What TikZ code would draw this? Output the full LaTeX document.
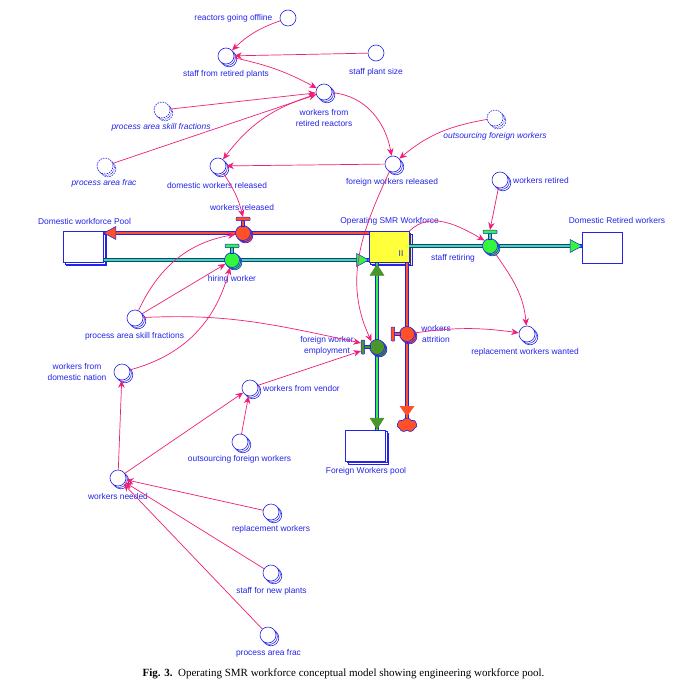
\documentclass[tikz,border=0pt]{standalone}
\usepackage{fontspec}
\setmainfont{Liberation Serif}
\newfontfamily\lblfont{Liberation Sans}
\usetikzlibrary{arrows.meta,shadows,shapes.symbols,calc}
\definecolor{tblue}{RGB}{35,35,235}
\definecolor{lpink}{RGB}{240,30,120}
\definecolor{vgreen}{RGB}{50,245,60}
\definecolor{dgreen}{RGB}{75,150,40}
\definecolor{vred}{RGB}{255,80,40}
\definecolor{syellow}{RGB}{255,255,60}
\newcommand\handleup[2]{%
  \filldraw[draw=tblue, fill=#2, line width=0.4pt] ($(#1.north)+(-1.6,-0.5)$) rectangle ($(#1.north)+(1.6,4.8)$);
  \filldraw[draw=tblue, fill=#2, line width=0.5pt, rounded corners=0.8pt] ($(#1.north)+(-7,4.5)$) rectangle ($(#1.north)+(7,8)$);}
\newcommand\handleleft[2]{%
  \filldraw[draw=tblue, fill=#2, line width=0.4pt] ($(#1.west)+(0.5,-1.6)$) rectangle ($(#1.west)+(-4.8,1.6)$);
  \filldraw[draw=tblue, fill=#2, line width=0.5pt, rounded corners=0.8pt] ($(#1.west)+(-4.5,-7)$) rectangle ($(#1.west)+(-8,7)$);}
\begin{document}
\begin{tikzpicture}[x=1pt,y=1pt,
  lbl/.style={text=tblue, font=\lblfont\fontsize{8.4}{11}\selectfont, inner sep=0pt, align=center},
  ilbl/.style={lbl, font=\lblfont\itshape\fontsize{8.4}{11}\selectfont},
  conv/.style={circle, draw=tblue, fill=white, line width=0.6pt, minimum size=16pt, inner sep=0pt},
  convs/.style={conv, double copy shadow={shadow xshift=1.4pt, shadow yshift=-1.4pt}},
  ghost/.style={convs, dash pattern=on 1.6pt off 1pt},
  valve/.style={circle, draw=tblue, line width=0.6pt, minimum size=15pt, inner sep=0pt, double copy shadow={shadow xshift=1.2pt, shadow yshift=-1.2pt}},
  stock/.style={rectangle, draw=tblue, fill=white, line width=0.7pt, minimum width=40pt, minimum height=31pt, inner sep=0pt},
  stocks/.style={stock, double copy shadow={shadow xshift=1.5pt, shadow yshift=-1.5pt}},
  pipe/.style={draw=tblue, line width=1.1pt, double distance=2.6pt},
  phead/.style={draw=tblue, line width=0.5pt},
  link/.style={draw=lpink, line width=0.7pt, -{Stealth[length=7.5pt,width=6.5pt]}}
]
\fill[white] (0,0) rectangle (686,-690);
\useasboundingbox (0,0) rectangle (686,-690);

% stocks
\node[stocks] (dwp) at (83.5,-247) {};
\node[stocks, fill=syellow] (smr) at (389,-247) {};
\node[stock] (drw) at (602.5,-247.5) {};
\node[stocks] (fwp) at (365.5,-445.5) {};
\node[cloud, cloud puffs=7, cloud puff arc=120, aspect=1.5, draw=tblue, fill=vred, line width=0.6pt, minimum width=20pt, minimum height=14pt, inner sep=0pt] (cld) at (407,-425) {};

% valves (positions)
\coordinate (pvwr) at (243,-233);
\coordinate (pvhw) at (232,-260);
\coordinate (pvsr) at (490,-246);
\coordinate (pvfwe) at (377,-347);
\coordinate (pvwa) at (407,-334);

% pipes
\draw[pipe, double=vred] (smr.west |- pvwr) -- (dwp.east |- pvwr);
\draw[pipe, double=vgreen] (dwp.east |- pvhw) -- (smr.west |- pvhw);
\draw[pipe, double=vgreen] (smr.east |- pvsr) -- (drw.west |- pvsr);
\draw[pipe, double=vgreen] (smr.south -| pvfwe) -- (fwp.north -| pvfwe);
\draw[pipe, double=vred] (smr.south -| pvwa) -- (cld.north);

% pipe arrowheads
\filldraw[phead, fill=vred] (dwp.east |- pvwr) -- ++(12,6.5) -- ++(0,-13) -- cycle;
\filldraw[phead, fill=vgreen] (smr.west |- pvhw) -- ++(-12,6.5) -- ++(0,-13) -- cycle;
\filldraw[phead, fill=vgreen] (drw.west |- pvsr) -- ++(-12,6.5) -- ++(0,-13) -- cycle;
\filldraw[draw=dgreen, fill=dgreen] ($(fwp.north -| pvfwe)+(0,0.5)$) -- ++(-7,11) -- ++(14,0) -- cycle;
\filldraw[draw=dgreen, fill=dgreen] ($(smr.south -| pvfwe)+(0,-1.5)$) -- ++(-7,-11) -- ++(14,0) -- cycle;
\filldraw[draw=vred, fill=vred] ($(cld.north -| pvwa)+(0,1.5)$) -- ++(-7,10) -- ++(14,0) -- cycle;

\node[text=tblue, font=\lblfont\fontsize{8.4}{8.4}\selectfont, inner sep=0pt] at (401,-254) {II};

% valves
\node[valve, fill=vred] (vwr) at (pvwr) {};
\node[valve, fill=vgreen] (vhw) at (pvhw) {};
\node[valve, fill=vgreen] (vsr) at (pvsr) {};
\node[valve, fill=dgreen] (vfwe) at (pvfwe) {};
\node[valve, fill=vred] (vwa) at (pvwa) {};
\handleup{vwr}{vred}
\handleup{vhw}{vgreen}
\handleup{vsr}{vgreen}
\handleleft{vfwe}{dgreen}
\handleleft{vwa}{vred}
\coordinate (vwrh) at ($(vwr.north)+(0,8.3)$);
\coordinate (vsrh) at ($(vsr.north)+(0,8.3)$);
\coordinate (vfwea) at ($(vfwe.west)+(-8.3,4)$);
\coordinate (vfweb) at ($(vfwe.west)+(-8.3,-4)$);

% converters
\node[conv] (rgo) at (288,-18) {};
\node[convs] (sfrp) at (226,-56) {};
\node[conv] (sps) at (376,-53) {};
\node[convs] (wfrr) at (324,-92) {};
\node[ghost] (pasfa) at (162,-110) {};
\node[ghost] (pafa) at (105,-166) {};
\node[convs] (dwr) at (218,-166) {};
\node[convs] (fwr) at (393,-164) {};
\node[ghost] (ofwa) at (495,-118) {};
\node[convs] (wret) at (500,-180) {};
\node[convs] (rww) at (527,-334) {};
\node[convs] (pasfb) at (135,-318) {};
\node[convs] (wfdn) at (122,-372) {};
\node[convs] (wfv) at (250,-388) {};
\node[convs] (ofwb) at (240,-442) {};
\node[convs] (wn) at (118,-478) {};
\node[convs] (rw) at (271,-512) {};
\node[convs] (sfnp) at (271,-573) {};
\node[convs] (pafb) at (268,-635) {};

% labels
\node[lbl, anchor=east] at (272.5,-18) {reactors going offline};
\node[lbl] at (226,-74) {staff from retired plants};
\node[lbl] at (376,-72) {staff plant size};
\node[lbl] at (324,-117.5) {workers from\\retired reactors};
\node[ilbl] at (161,-127) {process area skill fractions};
\node[ilbl] at (104,-183) {process area frac};
\node[lbl] at (217,-185) {domestic workers released};
\node[lbl] at (392,-182) {foreign workers released};
\node[ilbl] at (495,-136) {outsourcing foreign workers};
\node[lbl, anchor=west] at (513,-180) {workers retired};
\node[lbl] at (525,-352) {replacement workers wanted};
\node[lbl] at (134.5,-336) {process area skill fractions};
\node[lbl] at (77,-372) {workers from\\domestic nation};
\node[lbl, anchor=west] at (263,-388) {workers from vendor};
\node[lbl] at (239.5,-459) {outsourcing foreign workers};
\node[lbl] at (118,-496) {workers needed};
\node[lbl] at (271,-529) {replacement workers};
\node[lbl] at (271.5,-591) {staff for new plants};
\node[lbl] at (268.5,-653) {process area frac};
\node[lbl] at (84.5,-221) {Domestic workforce Pool};
\node[lbl] at (389.5,-221) {Operating SMR Workforce};
\node[lbl] at (617,-220) {Domestic Retired workers};
\node[lbl] at (366,-471) {Foreign Workers pool};
\node[lbl] at (242,-207) {workers released};
\node[lbl] at (232,-279) {hiring worker};
\node[lbl] at (453,-258) {staff retiring};
\node[lbl] at (327,-346) {foreign worker\\employment};
\node[lbl] at (436,-334) {workers\\attrition};

% connectors
\draw[link] (rgo) to[bend right=12] (sfrp);
\draw[link] (sps) -- (sfrp);
\draw[link] (sfrp) to[bend left=8] (wfrr);
\draw[link] (pasfa) -- (wfrr);
\draw[link] (pafa) -- (wfrr);
\draw[link] (wfrr) to[bend right=18] (dwr);
\draw[link] (wfrr) to[out=-5,in=100] (fwr);
\draw[link] (ofwa) to[out=190,in=40] (fwr);
\draw[link] (fwr) -- (dwr);
\draw[link] (dwr) to[bend left=10] (vwrh);
\draw[link] (fwr) to[out=245,in=115] (vfwe.north west);
\draw[link] (wret) -- (vsrh);
\draw[link] (smr.north east) to[out=45,in=150] (vsr.north west);
\draw[link] (vsr) to[out=-55,in=95] (rww);
\draw[link] (vwa) to[bend left=8] (rww);
\draw[link] (pasfb) to[out=65,in=190] (vwr);
\draw[link] (pasfb) -- (vhw);
\draw[link] (wfdn) to[out=15,in=255] (vhw);
\draw[link] (pasfb) to[out=3,in=168] (vfwea);
\draw[link] (wfv) -- (vfweb);
\draw[link] (wn) -- (wfdn);
\draw[link] (wn) -- (wfv);
\draw[link] (ofwb) -- (wfv);
\draw[link] (rw) -- (wn);
\draw[link] (sfnp) -- (wn);
\draw[link] (pafb) -- (wn);

% caption
\node[font=\fontsize{11}{13}\selectfont, inner sep=0pt] (cap) at (343.5,-674) {\textbf{Fig. 3.}\enspace Operating SMR workforce conceptual model showing engineering workforce pool.};
\end{tikzpicture}
\end{document}
